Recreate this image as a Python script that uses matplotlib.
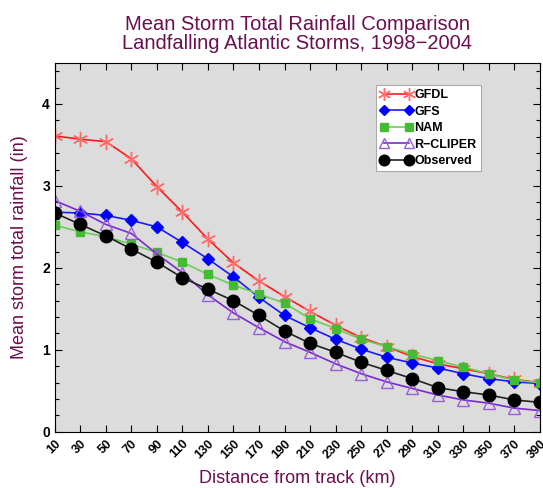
import numpy as np
import matplotlib
matplotlib.use("Agg")
import matplotlib.pyplot as plt
from matplotlib.ticker import MultipleLocator

plt.rcParams['font.family'] = ['Liberation Sans', 'DejaVu Sans']

# distance from track (km)
dist = [10, 30, 50, 70, 90, 110, 130, 150, 170, 190,
        210, 230, 250, 270, 290, 310, 330, 350, 370, 390]

# mean storm total rainfall (in)
gfdl = [3.61, 3.57, 3.54, 3.33, 2.99, 2.68, 2.35, 2.06, 1.84, 1.65,
        1.47, 1.30, 1.15, 1.04, 0.92, 0.83, 0.77, 0.71, 0.64, 0.60]
gfs = [2.68, 2.67, 2.64, 2.58, 2.50, 2.31, 2.11, 1.89, 1.64, 1.42,
       1.27, 1.13, 1.01, 0.91, 0.84, 0.78, 0.71, 0.65, 0.61, 0.59]
nam = [2.52, 2.44, 2.38, 2.29, 2.19, 2.07, 1.92, 1.79, 1.68, 1.57,
       1.38, 1.26, 1.13, 1.04, 0.95, 0.87, 0.79, 0.71, 0.63, 0.60]
rcliper = [2.82, 2.69, 2.53, 2.42, 2.17, 1.94, 1.67, 1.45, 1.27, 1.10,
           0.97, 0.83, 0.71, 0.61, 0.53, 0.45, 0.39, 0.35, 0.29, 0.26]
observed = [2.67, 2.53, 2.39, 2.23, 2.07, 1.88, 1.74, 1.60, 1.42, 1.23,
            1.08, 0.97, 0.85, 0.75, 0.65, 0.54, 0.49, 0.45, 0.39, 0.36]

title_color = '#6b0f4f'

fig = plt.figure(figsize=(5.43, 4.88), dpi=100)
ax = fig.add_axes([0.101, 0.115, 0.893, 0.756])
ax.set_facecolor('#dcdcdc')

asterisk = (6, 2, 0)
ax.plot(dist, gfdl, color='#ff1a1a', lw=1.2, marker=asterisk, ms=11,
        mec='#ff6a6a', mew=1.0, label='GFDL')
ax.plot(dist, gfs, color='#1a1aff', lw=1.2, marker='D', ms=6,
        mfc='#0000ff', mec='#0000ff', label='GFS')
ax.plot(dist, nam, color='#6ccc5a', lw=1.2, marker='s', ms=6,
        mfc='#44bb33', mec='#44bb33', label='NAM')
ax.plot(dist, rcliper, color='#7a2ad0', lw=1.2, marker='^', ms=8,
        mfc='none', mec='#9a5ed8', mew=1.0, label='R\u2212CLIPER')
ax.plot(dist, observed, color='#222222', lw=1.2, marker='o', ms=9,
        mfc='black', mec='black', label='Observed')

ax.set_xlim(10, 390)
ax.set_ylim(0, 4.5)
ax.set_xticks(dist)
ax.set_xticklabels([str(d) for d in dist], rotation=45, ha='right',
                   rotation_mode='anchor', fontweight='bold', fontsize=9)
ax.set_yticks([0, 1, 2, 3, 4])
ax.set_yticklabels(['0', '1', '2', '3', '4'], fontweight='bold', fontsize=10)
ax.yaxis.set_minor_locator(MultipleLocator(0.2))
ax.tick_params(which='both', direction='in', top=True, right=True)
ax.tick_params(which='major', length=5, width=0.8)
ax.tick_params(which='minor', length=3, width=0.8)
ax.tick_params(axis='x', pad=4)

ax.set_xlabel('Distance from track (km)', color=title_color, fontsize=13,
              labelpad=7)
ax.set_ylabel('Mean storm total rainfall (in)', color=title_color,
              fontsize=13, labelpad=10)
ax.set_title('Mean Storm Total Rainfall Comparison\n'
             'Landfalling Atlantic Storms, 1998\u22122004',
             color=title_color, fontsize=14.5, linespacing=1.0, pad=10)

leg = ax.legend(loc='upper left', bbox_to_anchor=(0.662, 0.94),
                prop={'weight': 'bold', 'size': 9}, fancybox=False,
                framealpha=1, edgecolor='#aaaaaa', handlelength=2.6,
                handletextpad=0.15, labelspacing=0.35, borderpad=0.35,
                borderaxespad=0, numpoints=2, markerscale=0.85)
leg.get_frame().set_linewidth(0.8)

fig.savefig('out.png', dpi=100)
